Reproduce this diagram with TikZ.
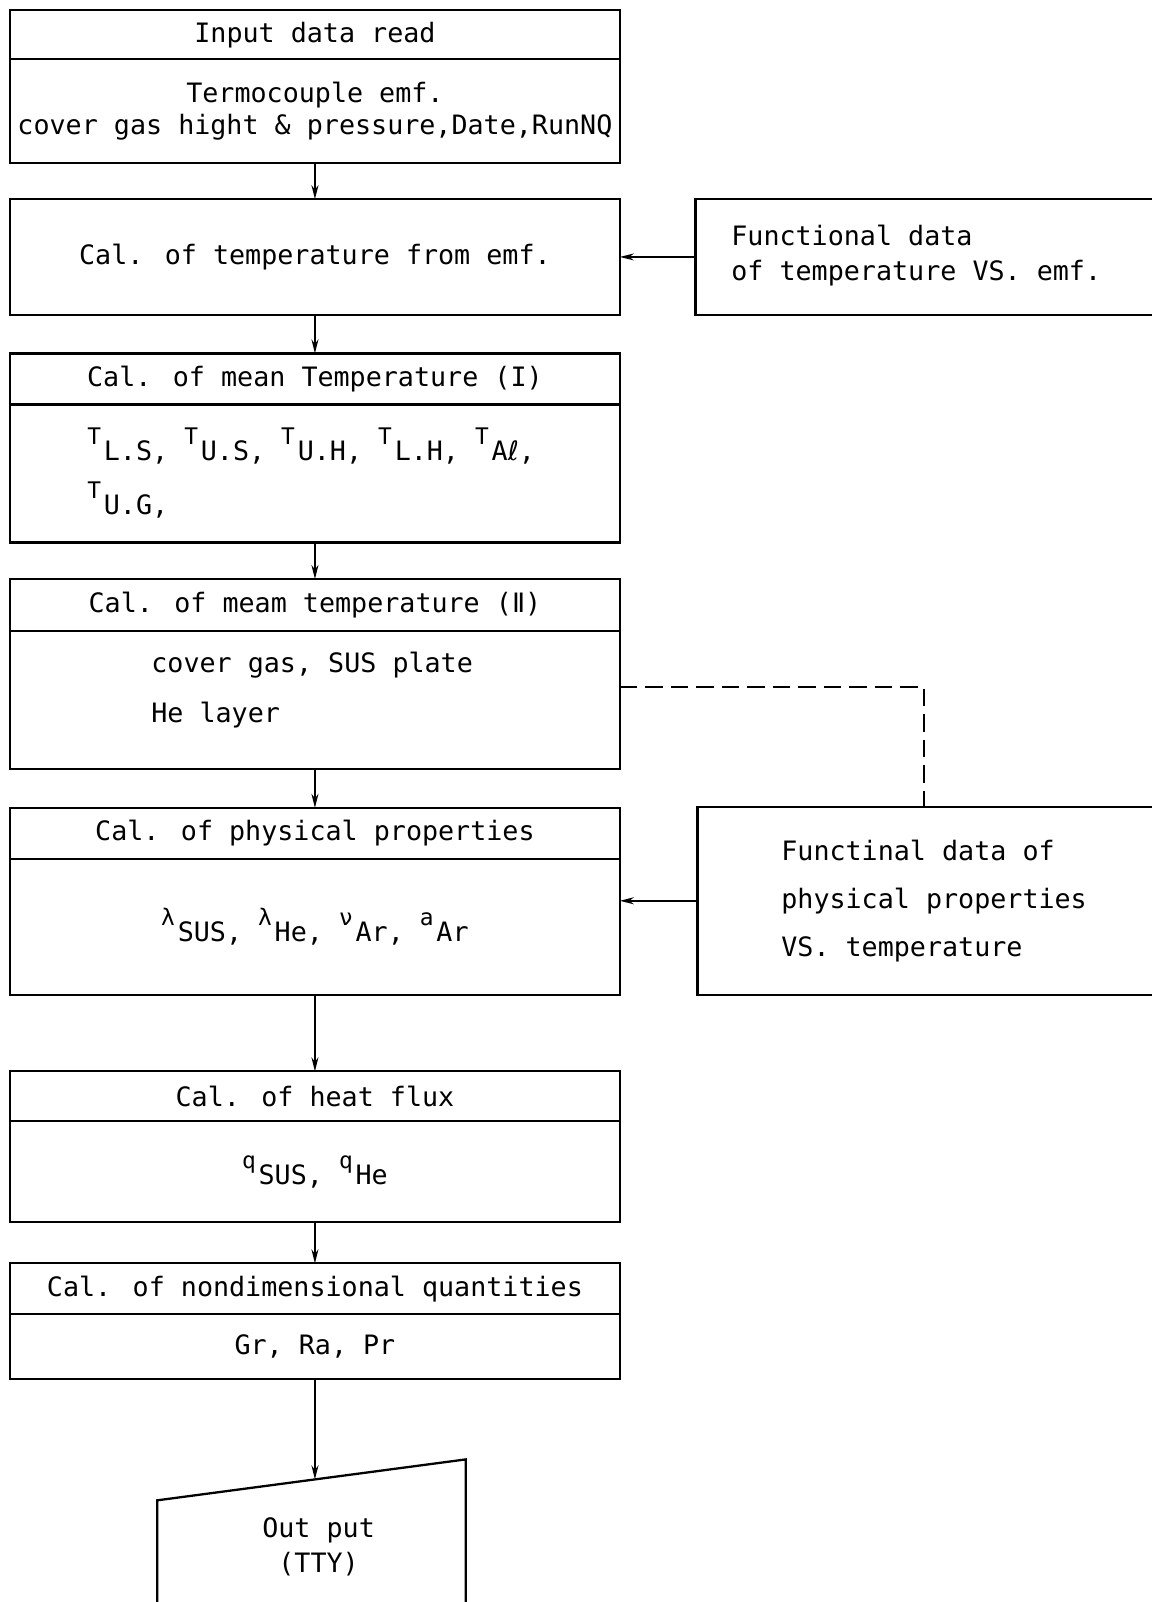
\documentclass[tikz,border=0pt]{standalone}
\usepackage{fontspec}
\setmainfont{DejaVu Sans Mono}
\newfontfamily\symfont{DejaVu Sans}
\usetikzlibrary{arrows.meta,positioning}
\newcommand{\fs}[1]{\fontsize{15.2}{#1}\selectfont}
\newcommand{\up}[1]{\makebox[0.62em][l]{\raisebox{0.6em}{\fontsize{13}{13}\selectfont #1}}}

\tikzset{
  boxline/.style={draw, line width=1.3pt},
  head/.style={boxline, rectangle, minimum width=12.2cm, inner sep=0pt, outer sep=0pt, anchor=north west, font=\fs{18}},
  body/.style={boxline, rectangle, minimum width=12.2cm, inner sep=0pt, outer sep=0pt, anchor=north, align=center, font=\fs{18}},
  flow/.style={line width=0.9pt, -{Stealth[length=8pt,width=4pt]}},
  dashline/.style={line width=1.2pt, dash pattern=on 10pt off 4.5pt},
  note/.style={anchor=west, align=left, inner sep=0pt}
}

\begin{document}
\begin{tikzpicture}[x=0.02cm, y=-0.02cm]
  \useasboundingbox (0,0) rectangle (1152,1602);
  \clip (0,0) rectangle (1152,1602);

  % input
  \node[head, minimum height=0.98cm] (inp) at (10,10.2) {Input data read};
  \node[body, minimum height=2.08cm] (inpbody) at (inp.south) {Termocouple emf.\\cover gas hight \& pressure,Date,RunNQ};

  % temperature from emf
  \node[head, minimum height=2.31cm] (tcal) at (10,199.2) {Cal. of temperature from emf.};
  \node[boxline, rectangle, outer sep=0pt, anchor=north west, minimum width=10cm, minimum height=2.31cm] (fa) at (695.5,199.2) {};
  \node[note, font=\fs{19.7}] (fatext) at (731,255.3) {Functional data\\of temperature VS. emf.};

  % mean temperature I
  \node[head, minimum height=1.02cm] (mt1) at (10,353.4) {Cal. of mean Temperature (I)};
  \node[body, minimum height=2.76cm] (mt1body) at (mt1.south) {};
  \node[note, font=\fs{30.6}] (mt1text) at (87,473) {\up{T}L.S, \up{T}U.S, \up{T}U.H, \up{T}L.H, \up{T}A{\symfont ℓ},\\\up{T}U.G,};

  % mean temperature II
  \node[head, minimum height=1.04cm] (mt2) at (10,579) {Cal. of meam temperature ({\symfont Ⅱ})};
  \node[body, minimum height=2.76cm] (mt2body) at (mt2.south) {};
  \node[note, font=\fs{28.3}] (mt2text) at (151,690) {cover gas, SUS plate\\He layer};

  % physical properties
  \node[head, minimum height=1.02cm] (phys) at (10,807.8) {Cal. of physical properties};
  \node[body, minimum height=2.72cm] (physbody) at (phys.south) {\up{λ}SUS, \up{λ}He, \up{ν}Ar, \up{a}Ar};
  \node[boxline, rectangle, outer sep=0pt, anchor=north west, minimum width=10cm, minimum height=3.76cm] (fb) at (697.5,806.8) {};
  \node[note, font=\fs{27.2}] (fbtext) at (781,900.8) {Functinal data of\\physical properties\\VS. temperature};

  % heat flux
  \node[head, minimum height=1.0cm] (hf) at (10,1071.3) {Cal. of heat flux};
  \node[body, minimum height=2.02cm] (hfbody) at (hf.south) {\up{q}SUS, \up{q}He};

  % nondimensional
  \node[head, minimum height=1.02cm] (nd) at (10,1263.3) {Cal. of nondimensional quantities};
  \node[body, minimum height=1.29cm] (ndbody) at (nd.south) {Gr, Ra, Pr};

  % output
  \draw[boxline] (157.3,1640) -- (157.3,1500.3) -- (465.7,1459.4) -- (465.7,1640);
  \coordinate (outtop) at (ndbody.south |- 0,1479.4);
  \node[align=center, font=\fs{20.2}] (outtext) at (318.6,1546.7) {Out put\\(TTY)};

  % connectors
  \draw[flow] (inpbody.south) -- (tcal.north);
  \draw[flow] (tcal.south) -- (mt1.north);
  \draw[flow] (mt1body.south) -- (mt2.north);
  \draw[flow] (mt2body.south) -- (phys.north);
  \draw[flow] (physbody.south) -- (hf.north);
  \draw[flow] (hfbody.south) -- (nd.north);
  \draw[flow] (ndbody.south) -- (outtop);
  \draw[flow] (fa.west) -- (tcal.east);
  \draw[flow] (fb.west) -- (fb.west -| physbody.east);
  \coordinate (dsh) at (924.3,687.3);
  \draw[dashline] (dsh -| mt2body.east) -- (dsh) -- (dsh |- fb.north);
\end{tikzpicture}
\end{document}
